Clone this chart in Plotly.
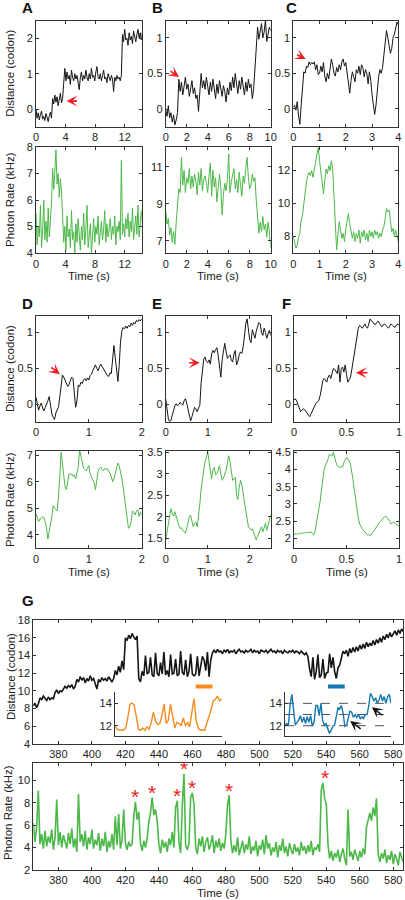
import numpy as np
import plotly.graph_objects as go

# ======================= DATA =======================
# Panel A : time step 0.15 s
a_step = 0.15
a_distance = [0.0, -0.25, -0.1, -0.3, -0.15, -0.05, -0.28, -0.2, -0.32, -0.12, -0.22, -0.35, -0.18, -0.08, -0.25,
              0.3, 0.15, 0.4, 0.2, 0.35, 0.1, 0.28, 0.45, 0.18, 0.3,
              0.75, 1.15, 0.8, 1.05, 0.85, 0.95, 0.7, 1.1, 0.9, 0.8,
              1.0, 0.85, 0.95, 0.75, 0.55, 0.9, 1.05, 0.8, 0.95, 0.85,
              1.1, 0.9, 0.8, 1.0, 0.85, 1.15, 0.9, 0.95, 0.8, 1.05,
              1.2, 0.9, 0.85, 1.0, 0.8, 0.95, 1.1, 0.85, 0.9, 0.75,
              1.0, 0.9, 0.8, 0.95, 0.85, 0.5, 0.9, 0.8, 0.95, 0.85,
              0.9, 0.8, 0.95,
              2.1, 1.9, 2.25, 1.95, 2.0, 1.8, 2.15, 1.95, 2.05, 1.85, 2.2, 2.0, 1.9, 2.1, 2.25, 2.0, 2.15, 1.95, 2.2]
a_rate = [5.5, 4.3, 5.0, 4.6, 5.8, 4.2, 4.9, 6.0, 4.5, 5.2, 4.4, 5.7, 4.6, 5.3,
          5.9, 7.2, 6.4, 7.1, 7.9, 6.6, 7.0, 6.1, 6.8, 6.3,
          5.2, 4.4, 5.0, 4.1, 5.4, 4.6, 4.9, 4.2, 5.6, 4.5,
          4.8, 4.0, 5.1, 4.4, 5.3, 4.7, 4.1, 5.0, 4.5, 5.5,
          4.3, 4.9, 5.8, 4.2, 4.7, 5.1, 4.0, 4.6, 5.3, 4.4,
          5.0, 4.7, 5.4, 4.3, 4.8, 5.2, 4.5, 4.9, 5.6, 4.4,
          5.1, 4.6, 4.9, 5.3, 4.5, 5.0, 4.7, 5.4, 4.3, 5.0,
          4.8, 5.2, 4.5, 7.5, 4.7, 5.1, 4.6, 5.3, 4.9, 5.5,
          4.6, 5.2, 4.8, 5.7, 4.5, 5.0, 5.4, 4.7, 5.8, 4.6,
          5.3, 5.6, 5.0]

# Panel B : time step 0.125 s
b_step = 0.125
b_distance = [0.0, -0.1, 0.05, -0.12, -0.05, -0.18, -0.08, -0.22, -0.15,
              -0.05,
              0.42, 0.25, 0.38, 0.2, 0.32, 0.45, 0.28, 0.35, 0.18, 0.3,
              0.4, 0.22, 0.3, 0.15, 0.2, -0.03, 0.25, 0.5, 0.3, 0.4,
              0.28, 0.45, 0.32, 0.2, 0.38, 0.25, 0.42, 0.3, 0.15, 0.35,
              0.22, 0.4, 0.28, 0.18, 0.33, 0.25, 0.1, 0.3, 0.2, 0.38,
              0.26, 0.45, 0.3, 0.5, 0.35, 0.22, 0.4, 0.28, 0.45, 0.3,
              0.2, 0.38, 0.25, 0.42, 0.3, 0.35, 0.15, 0.28,
              0.55, 0.95, 1.15, 0.98, 1.1, 1.2, 1.0, 1.08, 1.25, 0.95, 1.05, 1.15, 1.1]
b_rate = [8.6, 7.9, 8.2, 7.3, 7.7, 6.9, 7.5, 6.8,
          8.0, 9.0, 9.8, 9.6,
          11.5,
          10.0, 10.8, 9.6, 10.4, 10.1, 10.9, 9.8, 10.5,
          9.9, 10.6, 10.2, 9.5, 10.7, 10.0, 10.9, 9.7, 10.3, 10.5,
          10.1, 9.6, 10.5, 11.2, 9.4, 10.8, 9.9, 10.4, 9.1, 10.0,
          10.6, 9.8, 8.4, 9.5, 10.1, 9.7, 10.3, 11.7, 9.6, 10.2,
          10.5, 10.9, 9.8, 10.3, 9.6, 10.7, 10.0, 9.4, 10.5, 10.1,
          10.9, 11.5, 10.4, 9.8, 10.0, 10.6, 10.2, 10.4,
          9.2, 8.0, 7.4, 8.0, 7.5, 8.3, 7.6, 7.9, 7.2, 8.0, 7.5, 6.6]

# Panel C : time step 0.05 s
c_step = 0.05
c_distance = [0.02, 0.05, -0.02, 0.1, -0.1, -0.22, 0.05, 0.3, 0.52, 0.5,
              0.6, 0.58, 0.66, 0.62, 0.65, 0.63, 0.66, 0.55, 0.62, 0.48,
              0.5, 0.6, 0.52, 0.65, 0.45, 0.38, 0.5, 0.42, 0.6, 0.7,
              0.62, 0.5, 0.46, 0.58, 0.52, 0.62, 0.55, 0.66, 0.7, 0.6,
              0.65, 0.48, 0.35, 0.22, 0.4, 0.52, 0.45, 0.38, 0.55, 0.5,
              0.6, 0.48, 0.62, 0.58, 0.45, 0.55, 0.5, 0.35, 0.52, 0.4,
              0.2, 0.02, -0.08, 0.05, 0.3, 0.45, 0.55, 0.5, 0.58, 0.75,
              0.95, 1.1, 1.0, 0.9, 0.78, 0.85, 1.0, 1.05, 1.12, 1.22,
              1.18]
c_rate = [8.0, 7.6, 7.3, 7.5, 8.0, 8.2, 9.0, 9.3, 10.1, 10.8,
          11.3, 11.7, 11.9, 11.7, 12.0, 11.6, 12.2, 12.5, 13.0, 13.4,
          12.6, 12.0, 11.3, 10.6, 11.4, 12.1, 11.8, 12.3, 12.0, 12.6,
          12.1, 10.4, 8.8, 7.2, 8.1, 8.9, 8.4, 7.9, 8.2, 7.7,
          8.5, 9.0, 9.4, 8.8, 8.2, 7.9, 8.3, 7.7, 8.2, 7.9,
          8.4, 7.6, 8.3, 8.0, 8.4, 7.8, 8.2, 7.7, 8.4, 8.0,
          8.3, 7.9, 8.4, 8.1, 8.3, 7.9, 8.2, 8.0, 8.4, 8.6,
          9.1, 9.7, 9.5, 9.6, 9.0, 8.3, 8.5, 8.0, 8.4, 8.1,
          7.7]

# Panel D : time step 0.025 s
d_step = 0.025
d_distance = [0.10, 0.0, -0.08, -0.02, 0.02, -0.05, -0.09, -0.04, 0.0, 0.05,
              0.11, -0.02, -0.13, -0.18, -0.21, -0.12, -0.09, -0.04, 0.1, 0.3,
              0.41, 0.38, 0.33, 0.3, 0.25, 0.28, 0.32, 0.38, 0.36, 0.15,
              -0.04, 0.05, 0.27, 0.25, 0.31, 0.29, 0.34, 0.36, 0.33, 0.37,
              0.34, 0.4, 0.42, 0.47, 0.5, 0.55, 0.5, 0.47, 0.52, 0.56,
              0.53, 0.5, 0.46, 0.42, 0.4, 0.39, 0.44, 0.43, 0.6, 0.82,
              0.65, 0.45, 0.32, 0.55, 0.88, 1.02, 1.07, 1.05, 1.09, 1.06,
              1.1, 1.08, 1.13, 1.1, 1.14, 1.12, 1.17, 1.15, 1.18, 1.16,
              1.19]
d_rate = [4.8, 4.6, 4.5, 4.6, 4.62, 4.7, 4.65, 4.5, 4.25, 3.85,
          4.1, 4.4, 4.7, 5.1, 5.0, 4.95, 4.9, 5.4, 6.2, 7.1,
          6.7, 6.3, 5.8, 5.7, 6.1, 6.3, 6.25, 6.3, 6.2, 6.25,
          6.1, 6.3, 6.55, 7.2, 7.0, 6.7, 6.5, 6.45, 6.4, 6.5,
          6.6, 6.3, 6.2, 6.1, 5.95, 5.7, 6.0, 6.4, 6.5, 6.55,
          6.45, 6.4, 6.5, 6.45, 6.5, 6.4, 6.3, 6.2, 6.0, 6.1,
          6.3, 6.5, 6.7, 6.6, 6.4, 6.1, 5.8, 5.4, 4.95, 4.5,
          4.25, 4.3, 4.5, 4.9, 4.85, 4.75, 4.9, 4.95, 4.7, 4.85,
          4.75]

# Panel E : time step 0.03125 s
e_step = 0.03125
e_distance = [0.08, -0.08, -0.2, -0.24, -0.22, -0.15, -0.07, -0.02, 0.01, -0.02,
              0.0, 0.03, 0.01, -0.01, 0.05, 0.08, 0.02, -0.06, -0.14, -0.23,
              -0.17, -0.09, -0.04, -0.06, -0.1, -0.05, -0.01, 0.3, 0.52, 0.63,
              0.66, 0.6, 0.58, 0.62, 0.56, 0.7, 0.75, 0.72, 0.76, 0.79,
              0.68, 0.55, 0.38, 0.62, 0.72, 0.85, 0.74, 0.64, 0.67, 0.69,
              0.62, 0.59, 0.7, 0.75, 0.55, 0.6, 0.69, 0.73, 0.71, 0.8,
              0.95, 1.12, 1.19, 1.05, 0.9, 0.86, 1.04, 0.98, 0.92, 1.02,
              1.1, 1.14, 1.12, 1.0, 0.96, 1.06, 1.0, 0.92, 0.98, 1.03,
              0.96]
e_rate = [1.46, 1.62, 1.8, 1.95, 2.19, 2.08, 2.02, 2.12, 2.0, 1.88,
          1.8, 1.73, 1.75, 1.69, 1.66, 1.62, 1.73, 1.9, 2.0, 2.04,
          1.9, 1.77, 1.85, 1.88, 1.77, 2.0, 2.3, 2.65, 2.9, 3.15,
          3.3, 3.38, 3.52, 3.3, 3.05, 2.88, 3.1, 3.15, 2.98, 3.0,
          3.08, 3.19, 3.0, 2.85, 2.9, 2.98, 3.08, 3.25, 3.42, 3.28,
          3.05, 2.85, 2.88, 2.92, 2.5, 2.4, 2.69, 2.85, 2.75, 2.5,
          2.35, 2.15, 1.95, 1.78, 1.73, 1.69, 1.72, 1.62, 1.55, 1.46,
          1.55, 1.62, 1.7, 1.77, 1.65, 1.78, 1.85, 1.69, 1.82, 1.92,
          2.04]

# Panel F : time step 0.0125 s
f_step = 0.0125
f_distance = [0.06, 0.08, 0.05, 0.0, -0.06, -0.1, -0.08, -0.06, -0.07, -0.09,
              -0.12, -0.15, -0.17, -0.13, -0.09, -0.03, -0.01, 0.02, 0.04, 0.06,
              0.13, 0.25, 0.33, 0.36, 0.33, 0.31, 0.38, 0.41, 0.36, 0.45,
              0.5, 0.49, 0.45, 0.43, 0.55, 0.31, 0.5, 0.52, 0.45, 0.55,
              0.42, 0.31, 0.34, 0.38, 0.48, 0.59, 0.7, 0.82, 0.95, 1.06,
              1.1, 1.08, 1.06, 1.09, 1.12, 1.08, 1.06, 1.12, 1.19, 1.16,
              1.15, 1.12, 1.11, 1.14, 1.16, 1.13, 1.1, 1.08, 1.11, 1.12,
              1.1, 1.07, 1.06, 1.09, 1.12, 1.1, 1.08, 1.07, 1.1, 1.12,
              1.1]
f_rate = [2.12, 2.14, 2.12, 2.15, 2.13, 2.16, 2.14, 2.17, 2.16, 2.18,
          2.16, 2.19, 2.17, 2.2, 2.15, 2.1, 2.2, 2.42, 2.6, 2.85,
          3.1, 3.42, 3.8, 4.0, 4.12, 4.2, 4.3, 4.44, 4.4, 4.38,
          4.5, 4.3, 4.2, 4.1, 4.07, 4.05, 4.08, 4.06, 4.2, 4.3,
          4.35, 4.3, 4.25, 4.15, 3.95, 3.7, 3.4, 3.1, 2.8, 2.6,
          2.42, 2.33, 2.28, 2.24, 2.2, 2.15, 2.1, 2.12, 2.08, 2.13,
          2.19, 2.22, 2.3, 2.35, 2.4, 2.45, 2.5, 2.55, 2.58, 2.63,
          2.65, 2.6, 2.56, 2.5, 2.42, 2.45, 2.48, 2.44, 2.4, 2.38,
          2.35]

# Panel G : 1 s samples starting at 365 s
g_start = 365
g_step = 1.0
g_distance = [8.3, 8.6, 8.1, 8.5,
              9.2, 9.0, 9.4, 9.1, 8.9, 9.3, 9.0, 9.2, 9.1,
              9.8, 10.1, 9.7, 10.0, 9.9, 10.2,
              10.5, 10.3, 10.6, 10.4, 10.7, 10.2, 10.5,
              11.3, 11.0, 11.6, 11.2, 11.5, 10.9, 11.4, 11.1, 11.7, 11.2, 11.4, 10.8, 10.2, 11.3,
              11.0, 11.5, 11.2, 11.4, 11.1, 11.6, 11.3, 11.0, 11.4,
              12.3, 11.8, 12.8, 12.1, 13.4, 12.4,
              16.0, 15.7, 16.3, 15.9, 16.5, 16.1, 15.8, 16.2,
              11.4, 11.0, 12.2, 11.7, 14.0, 11.9, 12.1, 13.8, 11.8, 11.6, 14.3, 12.0, 11.7, 13.2,
              11.9, 14.4, 11.8, 12.3, 11.6, 14.1, 11.9, 12.0, 13.6, 11.7, 11.9, 14.5, 12.1, 11.8,
              13.5, 11.6, 12.2, 14.2, 11.9, 11.7,
              11.9, 13.9, 11.7, 12.8, 13.9, 13.5, 12.3, 14.4, 11.6, 13.5, 14.3,
              14.6, 14.3, 14.7, 14.4, 14.5, 14.2, 14.6, 14.4, 14.7, 14.3,
              14.5, 14.4, 14.6, 14.2, 14.5, 14.7, 14.4, 14.5, 14.3, 14.6,
              14.4, 14.5, 14.7, 14.3, 14.6, 14.4, 14.5, 14.2, 14.6, 14.5,
              14.4, 14.6, 14.3, 14.5, 14.7, 14.4, 14.5, 14.3, 14.6, 14.4,
              14.5, 14.2, 14.6, 14.4, 14.3, 14.5, 14.4, 14.6, 14.3, 14.5,
              14.4, 14.2, 14.5, 14.3, 14.1, 14.3, 13.9,
              12.5, 11.6, 13.8, 11.3, 12.2, 14.1, 11.5, 11.8, 13.6, 11.4, 12.0,
              12.1, 14.2, 12.6, 13.8, 12.2, 11.4, 12.6,
              12.9, 13.9, 14.5, 14.2, 14.6, 13.9, 14.8, 14.3, 14.9, 14.4,
              15.0, 14.5, 15.2, 14.7, 15.3, 14.8, 15.5, 15.0, 15.4, 15.1,
              15.7, 15.2, 15.8, 15.4, 16.0, 15.5, 16.2, 15.8, 16.4, 16.0,
              16.6, 16.1, 16.5, 16.8, 16.3, 16.9, 16.5, 17.0, 16.7]
g_rate = [6.2, 4.5, 5.8, 9.1, 4.3, 5.2, 3.9, 5.5, 4.1, 5.0,
          4.4, 5.6, 3.8, 4.9, 8.3, 4.2, 5.4, 4.0, 5.1, 4.6,
          3.9, 5.3, 4.3, 5.7, 4.0, 4.8, 3.6, 8.8, 4.5, 5.2,
          4.1, 5.5, 3.8, 4.9, 4.3, 5.6, 3.9, 4.7, 4.2, 5.3,
          3.7, 4.8, 4.1, 5.4, 3.6, 4.6, 4.0, 5.2, 3.8, 6.8,
          4.2, 7.0, 3.9, 4.6, 7.4, 4.4, 3.8, 4.5, 4.1, 4.3,
          6.8, 8.1, 6.5, 7.2, 4.4, 3.7, 4.6, 4.0, 4.8, 6.3,
          7.1, 8.5, 6.9, 7.4, 6.4, 4.3, 3.5, 4.7, 4.0, 4.5,
          3.6, 4.8, 4.2, 5.4, 4.0, 7.6, 8.2, 4.5, 3.5, 7.8,
          10.6, 4.2, 3.8, 4.4, 8.5, 8.9, 7.9, 4.0, 3.4, 4.8,
          4.1, 5.0, 3.6, 4.5, 4.9, 3.8, 4.3, 5.1, 3.5, 4.6,
          4.0, 4.8, 3.7, 4.4, 3.9, 5.2, 7.8, 8.7, 4.6, 3.5,
          4.2, 3.6, 4.9, 3.3, 4.0, 4.6, 3.5, 4.3, 3.8, 5.0,
          3.4, 4.1, 3.7, 4.6, 3.2, 4.2, 3.8, 4.7, 3.4, 5.1,
          3.9, 4.4, 3.3, 4.0, 3.6, 4.5, 3.1, 4.2, 3.7, 4.8,
          3.5, 4.1, 3.2, 4.4, 3.8, 3.4, 4.3, 3.6, 4.0, 3.3,
          4.5, 3.7, 4.1, 3.4, 4.2, 3.6, 4.6, 3.3, 4.0, 3.8,
          4.3, 3.6, 9.2, 9.8, 8.4, 7.9, 4.3, 3.0, 3.7, 2.8,
          3.5, 3.1, 3.8, 2.7, 3.4, 3.9, 3.0, 2.4, 7.4, 3.2,
          3.6, 2.9, 3.8, 3.3, 2.8, 3.7, 3.1, 3.9, 3.4, 5.8,
          6.5, 7.1, 6.4, 7.6, 6.8, 8.4, 3.4, 2.7, 3.5, 3.0,
          3.8, 2.6, 3.3, 2.9, 3.7, 2.5, 3.4, 3.0, 2.4, 3.6,
          3.1, 2.7]

# Insets of panel G (zoomed windows)
orange_window = [462, 472]
orange_distance = [11.95, 11.7, 11.6, 11.65, 11.6, 11.8, 12.7, 13.9, 14.0, 13.8,
                   12.8, 11.7, 11.6, 11.8, 11.6, 11.9, 11.7, 12.3, 13.2, 12.4,
                   12.1, 12.2, 12.9, 13.9, 12.2, 12.5, 13.9, 13.0, 11.8, 12.3,
                   12.2, 12.0, 12.7, 12.0, 12.3, 11.9, 13.4, 14.4, 12.5, 11.8,
                   11.6, 11.65, 11.6, 12.2, 12.6, 13.4, 14.2, 14.3, 14.6, 14.2,
                   14.4]
blue_window = [541, 551]
blue_distance = [12.05, 12.2, 12.05, 13.9, 14.8, 13.1, 12.05, 12.3, 12.5, 12.9,
                 12.3, 12.75, 12.2, 12.8, 12.3, 12.9, 11.95, 12.3, 13.8, 13.8,
                 12.9, 14.0, 12.5, 12.05, 12.2, 11.75, 11.3, 11.6, 11.95, 12.05,
                 12.9, 13.6, 13.5, 13.8, 13.1, 11.95, 12.05, 12.75, 13.3, 13.2,
                 12.75, 13.0, 12.75, 13.0, 12.6, 12.8, 12.65, 13.0, 13.0, 13.8,
                 14.9, 14.6, 14.2, 14.5, 14.0, 14.3, 14.8, 14.2, 14.6, 14.0,
                 14.6, 14.8, 14.0]
blue_levels = [12, 13, 14]

# Marked events
star_times = [426, 436, 451, 455, 460, 482, 539]
# red arrows: (panel, time, distance level)
red_arrow_events = [("A", 4.13, 0.23), ("B", 1.27, 0.45), ("C", 0.47, 0.70),
                    ("D", 0.45, 0.42), ("E", 0.81, 0.58), ("F", 0.59, 0.44)]
black_arrow_events = [(547.15, 12.42), (549.2, 13.64)]

# ======================= STYLE / LAYOUT =======================
W, H = 405, 900
FONT = "Liberation Sans, Arial, Helvetica, sans-serif"
BLACK = "#151515"
GREEN = "#4cb848"
ORANGE = "#f58a1f"
BLUE = "#1577b0"
RED = "#ec1c24"
AXC = "#333333"
TXT = "#222222"


def dx(l, r):
    return [l / W, r / W]


def dy(t, b):
    return [1 - b / H, 1 - t / H]


# axis index: (x px span, y px span, x range, y range, x ticks, y ticks, box)
SPEC = {
    1: ((36, 141.7), (20.7, 126.7), (0, 14.3), (-0.49, 2.49), [0, 4, 8, 12], [0, 1, 2], True),
    2: ((36, 141.7), (146.7, 253.3), (0, 14.3), (3.98, 8.02), [0, 4, 8, 12], [4, 5, 6, 7, 8], True),
    3: ((165.7, 270.7), (20.7, 126.7), (0, 10), (-0.245, 1.24), [0, 2, 4, 6, 8, 10], [0, 0.5, 1], True),
    4: ((165.7, 270.7), (146.7, 253.3), (0, 10), (6.32, 12.08), [0, 2, 4, 6, 8, 10], [7, 9, 11], True),
    5: ((293.3, 398.3), (20.7, 126.7), (0, 4), (-0.253, 1.24), [0, 1, 2, 3, 4], [0, 0.5, 1], True),
    6: ((293.3, 398.3), (146.7, 253.3), (0, 4), (6.99, 13.45), [0, 1, 2, 3, 4], [8, 10, 12], True),
    7: ((36, 141.7), (316, 421.7), (0, 2), (-0.24, 1.23), [0, 1, 2], [0, 0.5, 1], True),
    8: ((36, 141.7), (451, 548.3), (0, 2), (3.5, 7.15), [0, 1, 2], [4, 5, 6, 7], True),
    9: ((165.7, 270.7), (316, 421.7), (0, 2.5), (-0.24, 1.23), [0, 1, 2], [0, 0.5, 1], True),
    10: ((165.7, 270.7), (451, 548.3), (0, 2.5), (1.27, 3.53), [0, 1, 2], [1.5, 2, 2.5, 3, 3.5], True),
    11: ((294, 399), (316, 421.7), (0, 1), (-0.24, 1.23), [0, 0.5, 1], [0, 0.5, 1], True),
    12: ((294, 399), (451, 548.3), (0, 1), (1.72, 4.53), [0, 0.5, 1], [2, 2.5, 3, 3.5, 4, 4.5], True),
    13: ((33.3, 403.3), (620, 744), (365, 586), (3.98, 18.02), list(range(380, 581, 20)), list(range(4, 19, 2)), True),
    14: ((33.3, 403.3), (763.3, 870), (365, 586), (1.98, 11.55), list(range(380, 581, 20)), [2, 4, 6, 8, 10], True),
    15: ((115, 221.7), (691.7, 736), tuple(orange_window), (11.1, 15.0), [], [12, 14], False),
    16: ((285, 391), (691.7, 736), tuple(blue_window), (11.08, 15.04), [], [12, 14], False),
}
PANEL_AX = {"A": 1, "B": 3, "C": 5, "D": 7, "E": 9, "F": 11}


def ref(i):
    return ("x" if i == 1 else f"x{i}", "y" if i == 1 else f"y{i}")


layout_axes = {}
for i, (xs, ys, xr, yr, xt, yt, box) in SPEC.items():
    xn, yn = ref(i)
    common = dict(showgrid=False, zeroline=False, showline=True, linecolor=AXC, linewidth=1,
                  ticks="inside", ticklen=3, tickwidth=1, tickcolor=AXC,
                  mirror="ticks" if box else False, automargin=False,
                  tickfont=dict(family=FONT, size=11, color=TXT), fixedrange=True)
    xa = dict(common, domain=dx(*xs), range=list(xr), anchor=yn, tickmode="array", tickvals=xt)
    ya = dict(common, domain=dy(*ys), range=list(yr), anchor=xn, tickmode="array", tickvals=yt)
    if not box:
        xa.update(ticks="", showticklabels=False)
    layout_axes["xaxis" if i == 1 else f"xaxis{i}"] = xa
    layout_axes["yaxis" if i == 1 else f"yaxis{i}"] = ya

traces = []


def line(i, x, y, color, width=1.0):
    xn, yn = ref(i)
    traces.append(go.Scatter(x=x, y=y, xaxis=xn, yaxis=yn, mode="lines",
                             line=dict(color=color, width=width), hoverinfo="skip", showlegend=False))


def tgrid(values, step, start=0.0):
    return start + np.arange(len(values)) * step


line(1, tgrid(a_distance, a_step), a_distance, BLACK)
line(2, tgrid(a_rate, a_step), a_rate, GREEN)
line(3, tgrid(b_distance, b_step), b_distance, BLACK)
line(4, tgrid(b_rate, b_step), b_rate, GREEN)
line(5, tgrid(c_distance, c_step), c_distance, BLACK)
line(6, tgrid(c_rate, c_step), c_rate, GREEN)
line(7, tgrid(d_distance, d_step), d_distance, BLACK)
line(8, tgrid(d_rate, d_step), d_rate, GREEN)
line(9, tgrid(e_distance, e_step), e_distance, BLACK)
line(10, tgrid(e_rate, e_step), e_rate, GREEN)
line(11, tgrid(f_distance, f_step), f_distance, BLACK)
line(12, tgrid(f_rate, f_step), f_rate, GREEN)
g_time = tgrid(g_distance, g_step, g_start)
line(13, g_time, g_distance, BLACK, 1.6)
g_rate_time = tgrid(g_rate, g_step, g_start)
line(14, g_rate_time, g_rate, GREEN, 1.6)
line(15, np.linspace(orange_window[0], orange_window[1], len(orange_distance)), orange_distance, ORANGE, 1.4)
line(16, np.linspace(blue_window[0], blue_window[1], len(blue_distance)), blue_distance, BLUE, 1.4)

shapes = []
# window bars on panel G
BAR_LEVEL = 10.5
for win, col in ((orange_window, ORANGE), (blue_window, BLUE)):
    shapes.append(dict(type="line", xref="x13", yref="y13", x0=win[0], x1=win[1],
                       y0=BAR_LEVEL, y1=BAR_LEVEL, line=dict(color=col, width=4)))
# dashed reference levels in blue inset
for lv in blue_levels:
    shapes.append(dict(type="line", xref="x16 domain", yref="y16", x0=0, x1=1, y0=lv, y1=lv,
                       line=dict(color="#555555", width=1, dash="dash"), layer="below"))

ann = []


def text(xp, yp, s, size=11.5, angle=0, bold=False, color=TXT):
    ann.append(dict(x=xp / W, y=1 - yp / H, xref="paper", yref="paper", text=f"<b>{s}</b>" if bold else s,
                    showarrow=False, textangle=angle, xanchor="center", yanchor="middle",
                    font=dict(family=FONT, size=size, color=color)))


# panel letters
for s, xp, yp in (("A", 28, 8), ("B", 157, 8), ("C", 291, 8), ("D", 28, 303), ("E", 157, 303),
                  ("F", 286, 303), ("G", 28, 600)):
    text(xp, yp, s, size=15, bold=True, color="#111")
# y titles
text(10, 73.7, "Distance (codon)", angle=-90)
text(10, 200, "Photon Rate (kHz)", angle=-90)
text(10, 369, "Distance (codon)", angle=-90)
text(10, 500, "Photon Rate (kHz)", angle=-90)
text(11, 677, "Distance (codon)", angle=-90)
text(8, 813, "Photon Rate (kHz)", angle=-90)
# x titles
for xc in (88.8, 218.2, 345.8):
    text(xc, 275.5, "Time (s)")
for xc in (88.8, 218.2, 346.5):
    text(xc, 572, "Time (s)")
text(218.3, 893, "Time (s)")

# red arrows
RED_ARROW_OFFSETS = {"A": (12, 0), "B": (-10, -7), "C": (-10, -5), "D": (-10, -8), "E": (-12, 0), "F": (13, 0)}
for p, t, lv in red_arrow_events:
    xn, yn = ref(PANEL_AX[p])
    axo, ayo = RED_ARROW_OFFSETS[p]
    ann.append(dict(x=t, y=lv, xref=xn, yref=yn, ax=axo, ay=ayo, text="", showarrow=True,
                    arrowhead=3, arrowsize=1.15, arrowwidth=1.6, arrowcolor=RED))
# black arrows in blue inset
for t, lv in black_arrow_events:
    ann.append(dict(x=t, y=lv, xref="x16", yref="y16", ax=12, ay=9, text="", showarrow=True,
                    arrowhead=3, arrowsize=1.2, arrowwidth=1.5, arrowcolor="#111"))
# asterisks above photon-rate peaks
g_rate_arr = np.array(g_rate)
for ts in star_times:
    m = (g_rate_time >= ts - 1) & (g_rate_time <= ts + 1)
    peak = float(g_rate_arr[m].max())
    ann.append(dict(x=ts, y=peak, xref="x14", yref="y14", text="*", showarrow=False,
                    yanchor="middle", yshift=5, font=dict(family=FONT, size=21, color=RED)))

fig = go.Figure(data=traces)
fig.update_layout(width=W, height=H, autosize=False, margin=dict(l=0, r=0, t=0, b=0),
                  template="none", paper_bgcolor="white", plot_bgcolor="rgba(0,0,0,0)",
                  showlegend=False, font=dict(family=FONT, size=11, color=TXT),
                  annotations=ann, shapes=shapes, **layout_axes)
fig.write_html("out.html", config={"displayModeBar": False, "staticPlot": True},
               post_script="document.body.style.margin='0';document.body.style.padding='0';"
                           "document.documentElement.style.overflow='hidden';"
                           "document.body.style.overflow='hidden';")
